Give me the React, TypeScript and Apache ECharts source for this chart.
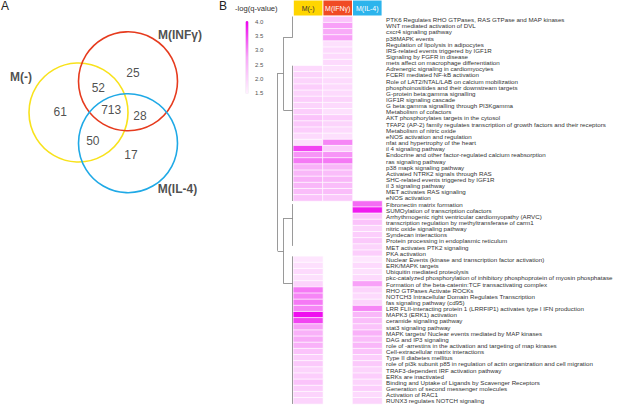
import React, { useEffect, useRef } from "react";
import * as echarts from "echarts";

const FONT = "'Liberation Sans', Arial, Helvetica, sans-serif";

// ---------- Panel B data ----------
const conditions = ["M(-)", "M(IFNγ)", "M(IL-4)"];
const headerColors = ["#ffd500", "#f04a24", "#2cb4ec"];
const headerTextColors = ["#333333", "#ffffff", "#ffffff"];

const pathways = [
  "PTK6 Regulates RHO GTPases, RAS GTPase and MAP kinases",
  "WNT mediated activation of DVL",
  "cxcr4 signaling pathway",
  "p38MAPK events",
  "Regulation of lipolysis in adipocytes",
  "IRS-related events triggered by IGF1R",
  "Signaling by FGFR in disease",
  "mets affect on macrophage differentiation",
  "Adrenergic signaling in cardiomyocytes",
  "FCERI mediated NF-kB activation",
  "Role of LAT2/NTAL/LAB on calcium mobilization",
  "phosphoinositides and their downstream targets",
  "G-protein beta:gamma signalling",
  "IGF1R signaling cascade",
  "G beta:gamma signalling through PI3Kgamma",
  "Metabolism of cofactors",
  "AKT phosphorylates targets in the cytosol",
  "TFAP2 (AP-2) family regulates transcription of growth factors and their receptors",
  "Metabolism of nitric oxide",
  "eNOS activation and regulation",
  "nfat and hypertrophy of the heart",
  "il 4 signaling pathway",
  "Endocrine and other factor-regulated calcium reabsorption",
  "ras signaling pathway",
  "p38 mapk signaling pathway",
  "Activated NTRK2 signals through RAS",
  "SHC-related events triggered by IGF1R",
  "il 3 signaling pathway",
  "MET activates RAS signaling",
  "eNOS activation",
  "Fibronectin matrix formation",
  "SUMOylation of transcription cofactors",
  "Arrhythmogenic right ventricular cardiomyopathy (ARVC)",
  "transcription regulation by methyltransferase of carm1",
  "nitric oxide signaling pathway",
  "Syndecan interactions",
  "Protein processing in endoplasmic reticulum",
  "MET activates PTK2 signaling",
  "PKA activation",
  "Nuclear Events (kinase and transcription factor activation)",
  "ERK/MAPK targets",
  "Ubiquitin mediated proteolysis",
  "pkc-catalyzed phosphorylation of inhibitory phosphoprotein of myosin phosphatase",
  "Formation of the beta-catenin:TCF transactivating complex",
  "RHO GTPases Activate ROCKs",
  "NOTCH3 Intracellular Domain Regulates Transcription",
  "fas signaling pathway (cd95)",
  "LRR FLII-interacting protein 1 (LRRFIP1) activates type I IFN production",
  "MAPK3 (ERK1) activation",
  "ceramide signaling pathway",
  "stat3 signaling pathway",
  "MAPK targets/ Nuclear events mediated by MAP kinases",
  "DAG and IP3 signaling",
  "role of -arrestins in the activation and targeting of map kinases",
  "Cell-extracellular matrix interactions",
  "Type II diabetes mellitus",
  "role of pi3k subunit p85 in regulation of actin organization and cell migration",
  "TRAF3-dependent IRF activation pathway",
  "ERKs are inactivated",
  "Binding and Uptake of Ligands by Scavenger Receptors",
  "Generation of second messenger molecules",
  "Activation of RAC1",
  "RUNX3 regulates NOTCH signaling",
];

const N = null;
// -log(q) for M(-)
const qNone = [
  N, N, N, N, N, N, N, N,
  1.9, 2.0, 2.0, 2.1, 2.0, 2.1, 2.0, 2.1, 2.3, 2.2, 2.1, 1.9,
  1.8, 3.5, 2.9, 3.1, 2.6, 2.5, 2.6, 2.5, 2.4, 2.3,
  N, N, N, N, N, N, N, N, N,
  1.7, 1.8, 1.9, 1.8, 2.0, 3.1, 3.0, 3.1, 3.0, 3.9, 3.5,
  2.8, 2.6, 2.7, 2.6, 2.3, 2.1, 2.2, 2.0, 2.1, 2.3, 2.1, 2.0, 2.0,
];
// -log(q) for M(IFNγ)
const qIFN = [
  2.3, 2.8, 2.7, 2.8, 1.8, 1.9, 1.9, 1.9,
  1.8, 1.8, 1.9, 1.9, 1.9, 2.0, 1.9, 1.8, 2.1, 2.0, 1.9, 1.8,
  3.0, 2.1, 2.9, 3.1, 2.5, 2.4, 2.5, 2.4, 2.4, 2.2,
  N, N, N, N, N, N, N, N, N, N, N, N, N, N, N, N, N, N, N, N, N,
  N, N, N, N, N, N, N, N, N, N, N, N,
];
// -log(q) for M(IL-4)
const qIL4 = [
  N, N, N, N, N, N, N, N, N, N, N, N, N, N, N, N, N, N, N, N,
  N, N, N, N, N, N, N, N, N, N,
  3.2, 3.8, 2.2, 2.3, 2.0, 2.1, 2.2, 2.0, 2.1,
  1.7, 1.9, 1.8, 1.9, 2.8, 2.0, 1.9, 2.0, 3.0, 2.5, 2.4,
  2.3, 2.6, 2.4, 2.5, 2.3, 2.1, 2.2, 2.0, 2.1, 2.0, 2.1, 1.9, 2.0,
];
const qColumns = [qNone, qIFN, qIL4];

const legendMin = 1.5;
const legendMax = 4.0;
const legendStep = 0.5;

// dendrogram segments: [height1, row1, height2, row2] (height 0 = leaves)
const dendroSegments = [
  [0, 0, 0, 3.4],
  [0, 8, 0, 30],
  [0, 30.5, 0, 37.3],
  [0, 39, 0, 63],
  [1, 3.4, 1, 15.2],
  [1, 3.4, 0, 3.4],
  [1, 15.2, 0, 15.2],
  [1, 32.8, 1, 43.4],
  [1, 32.8, 0, 32.8],
  [1, 43.4, 0, 43.4],
  [1.6, 9.2, 1.6, 38.1],
  [1.6, 9.2, 1, 9.2],
  [1.6, 38.1, 1, 38.1],
];

// ---------- Panel A data ----------
const vennSets = ["M(-)", "M(INFγ)", "M(IL-4)"];
const vennColors = ["#f8e21c", "#e63b1e", "#1fa9e6"];
const vennCircleX = [0, 1, 1];
const vennCircleY = [0, 0.63, -0.62];
const vennRadius = [1, 1, 1];
const vennCounts = [61, 52, 25, 713, 28, 50, 17];
const vennCountX = [-0.37, 0.4, 1.1, 0.66, 1.24, 0.29, 1.06];
const vennCountY = [0.02, 0.49, 0.8, 0.05, -0.07, -0.58, -0.86];
const vennLabelX = [-1.16, 2.05, 2.0];
const vennLabelY = [0.72, 1.57, -1.55];

export default function App() {
  const ref = useRef<HTMLDivElement>(null);

  useEffect(() => {
    if (!ref.current) return;
    const chart = echarts.init(ref.current, undefined, { renderer: "svg" });

    const heatData: any[] = [];
    qColumns.forEach((col, ci) => {
      col.forEach((v, ri) => {
        if (v !== null) heatData.push([ci, ri, v]);
      });
    });

    const rowCount = pathways.length;
    const heatTop = 16.5;
    const rowH = 6.15;
    const heatH = rowCount * rowH;

    const rich: any = {};
    conditions.forEach((c, i) => {
      rich["c" + i] = {
        backgroundColor: headerColors[i],
        color: headerTextColors[i],
        width: 28.6,
        height: 15,
        lineHeight: 15,
        align: "center",
        fontSize: 7,
        fontFamily: FONT,
      };
    });

    const option: any = {
      animation: false,
      backgroundColor: "#ffffff",
      textStyle: { fontFamily: FONT },
      grid: [
        { left: 9.2, top: 13.5, width: 198, height: 198, containLabel: false },
        { left: 293.3, top: heatTop, width: 88.8, height: heatH },
        { left: 277.7, top: heatTop, width: 15, height: heatH },
        { left: 249, top: 22.3, width: 1, height: 70.4 },
      ],
      xAxis: [
        { gridIndex: 0, type: "value", min: -1.4, max: 2.6, show: false },
        {
          gridIndex: 1,
          type: "category",
          data: conditions,
          position: "top",
          axisLine: { show: false },
          axisTick: { show: false },
          splitLine: { show: false },
          axisLabel: {
            interval: 0,
            margin: 1,
            formatter: (v: string) => `{c${conditions.indexOf(v)}|${v}}`,
            rich,
          },
        },
        { gridIndex: 2, type: "value", min: 0, max: 1.6, inverse: true, show: false },
        { gridIndex: 3, type: "value", min: 0, max: 1, show: false },
      ],
      yAxis: [
        { gridIndex: 0, type: "value", min: -2, max: 2, show: false },
        {
          gridIndex: 1,
          type: "category",
          data: pathways,
          inverse: true,
          position: "right",
          axisLine: { show: false },
          axisTick: { show: false },
          splitLine: { show: false },
          axisLabel: {
            interval: 0,
            margin: 4,
            fontSize: 6.2,
            color: "#333333",
            fontFamily: FONT,
          },
        },
        { gridIndex: 2, type: "value", min: 0, max: rowCount, inverse: true, show: false },
        {
          gridIndex: 3,
          type: "value",
          min: legendMin,
          max: legendMax,
          interval: legendStep,
          position: "right",
          axisLine: { show: false },
          axisTick: { show: false },
          splitLine: { show: false },
          axisLabel: {
            margin: 5,
            fontSize: 6,
            color: "#555555",
            fontFamily: FONT,
            formatter: (v: number) => v.toFixed(1),
          },
        },
      ],
      visualMap: {
        type: "continuous",
        min: legendMin,
        max: legendMax,
        seriesIndex: 3,
        calculable: false,
        show: true,
        orient: "vertical",
        left: 245.5,
        top: 21,
        itemWidth: 3,
        itemHeight: 73,
        padding: 0,
        text: ["", ""],
        showLabel: false,
        inRange: { color: ["#fff2ff", "#f8a8f8", "#ee00ee"] },
      },
      series: [
        {
          type: "custom",
          xAxisIndex: 0,
          yAxisIndex: 0,
          silent: true,
          data: vennCircleX.map((x, i) => [x, vennCircleY[i], vennRadius[i]]),
          renderItem: (params: any, api: any) => {
            const c = api.coord([api.value(0), api.value(1)]);
            const r = api.size([api.value(2), 0])[0];
            return {
              type: "circle",
              shape: { cx: c[0], cy: c[1], r },
              style: { fill: "none", stroke: vennColors[params.dataIndex], lineWidth: 1.6 },
            };
          },
        },
        {
          type: "scatter",
          xAxisIndex: 0,
          yAxisIndex: 0,
          silent: true,
          symbolSize: 1,
          itemStyle: { color: "rgba(0,0,0,0)" },
          data: vennCounts.map((v, i) => [vennCountX[i], vennCountY[i], v]),
          label: {
            show: true,
            position: "inside",
            formatter: (p: any) => String(p.value[2]),
            fontSize: 12,
            color: "#222222",
            fontFamily: FONT,
          },
        },
        {
          type: "scatter",
          xAxisIndex: 0,
          yAxisIndex: 0,
          silent: true,
          symbolSize: 1,
          itemStyle: { color: "rgba(0,0,0,0)" },
          data: vennSets.map((s, i) => ({ value: [vennLabelX[i], vennLabelY[i]], name: s })),
          label: {
            show: true,
            position: "inside",
            formatter: (p: any) => p.name,
            fontSize: 12,
            fontWeight: "bold",
            color: "#222222",
            fontFamily: FONT,
          },
        },
        {
          type: "heatmap",
          xAxisIndex: 1,
          yAxisIndex: 1,
          silent: true,
          data: heatData,
          itemStyle: { borderColor: "#ffffff", borderWidth: 0.7 },
          emphasis: { disabled: true },
        },
        {
          type: "lines",
          coordinateSystem: "cartesian2d",
          xAxisIndex: 2,
          yAxisIndex: 2,
          silent: true,
          lineStyle: { color: "#808080", width: 0.8, opacity: 1 },
          data: dendroSegments.map((s) => ({ coords: [[s[0], s[1]], [s[2], s[3]]] })),
        },
        { type: "scatter", xAxisIndex: 3, yAxisIndex: 3, data: [], silent: true },
      ],
      graphic: [
        { type: "text", left: 1, top: 0, style: { text: "A", fontSize: 12, fill: "#222", fontFamily: FONT } },
        { type: "text", left: 219, top: 0, style: { text: "B", fontSize: 12, fill: "#222", fontFamily: FONT } },
        {
          type: "text",
          left: 235,
          top: 4,
          style: { text: "-log(q-value)", fontSize: 7.6, fill: "#333", fontFamily: FONT },
        },
      ],
    };

    chart.setOption(option);
    return () => chart.dispose();
  }, []);

  return (
    <div
      ref={ref}
      style={{ position: "fixed", left: 0, top: 0, width: 617, height: 405, background: "#fff" }}
    />
  );
}
